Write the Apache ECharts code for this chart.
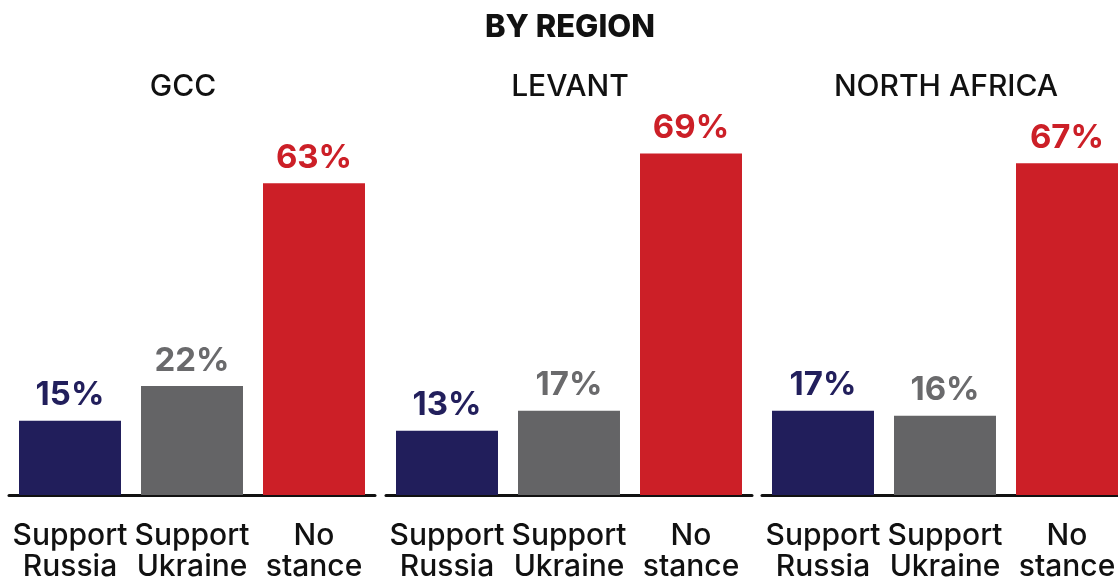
<!DOCTYPE html>
<html>
<head>
<meta charset="utf-8">
<script src="https://cdn.jsdelivr.net/npm/echarts@6/dist/echarts.min.js"></script>
<style>
  html, body { margin: 0; padding: 0; background: #ffffff; }
  #chart { width: 1118px; height: 579px; }
</style>
</head>
<body>
<div id="chart"></div>
<script>
// Stance on the war, share of respondents by region (%)
const regions = ['GCC', 'LEVANT', 'NORTH AFRICA'];
const stances = ['Support\nRussia', 'Support\nUkraine', 'No\nstance'];
const gccValues = [15, 22, 63];
const levantValues = [13, 17, 69];
const northAfricaValues = [17, 16, 67];
const mainTitle = 'BY REGION';

const colors = ['#211e5b', '#646466', '#cc1f27'];
const labelColors = ['#221f5c', '#6a6a6c', '#cc1f27'];
const FONT = 'Inter, "Liberation Sans", sans-serif';

const panelValues = [gccValues, levantValues, northAfricaValues];
const panelLeft = [9, 386, 762];
const panelWidth = 366;
const titleCenters = [183, 570, 946];

const option = {
  backgroundColor: '#ffffff',
  animation: false,
  title: [
    {
      text: mainTitle, left: 570, top: 12, textAlign: 'center', padding: 0,
      textStyle: { fontFamily: FONT, fontSize: 31, fontWeight: 800, color: '#111111' }
    }
  ].concat(regions.map((r, i) => ({
    text: r, left: titleCenters[i], top: 72, textAlign: 'center', padding: 0,
    textStyle: { fontFamily: FONT, fontSize: 30, fontWeight: 500, color: '#111111' }
  }))),
  grid: panelValues.map((_, i) => ({
    left: panelLeft[i], width: panelWidth, top: 0, height: 495,
    containLabel: false, outerBoundsMode: 'none'
  })),
  xAxis: panelValues.map((_, i) => ({
    type: 'category', gridIndex: i, data: stances,
    axisLine: { show: true, lineStyle: { color: '#111111', width: 3 } },
    axisTick: { show: false },
    axisLabel: {
      interval: 0, margin: 25, color: '#111111',
      fontFamily: FONT, fontSize: 30, lineHeight: 31, fontWeight: 500
    }
  })),
  yAxis: panelValues.map((_, i) => ({
    type: 'value', gridIndex: i, min: 0, max: 100,
    show: false, splitLine: { show: false }
  })),
  series: panelValues.map((vals, i) => ({
    type: 'bar', xAxisIndex: i, yAxisIndex: i,
    barCategoryGap: '16.4%',
    data: vals.map((v, j) => ({
      value: v,
      itemStyle: { color: colors[j] },
      label: { color: labelColors[j] }
    })),
    label: {
      show: true, position: 'top', distance: 9,
      formatter: '{c}%',
      fontFamily: FONT, fontSize: 33, fontWeight: 700
    }
  }))
};

const chart = echarts.init(document.getElementById('chart'), null, { renderer: 'canvas' });
chart.setOption(option);
</script>
</body>
</html>
